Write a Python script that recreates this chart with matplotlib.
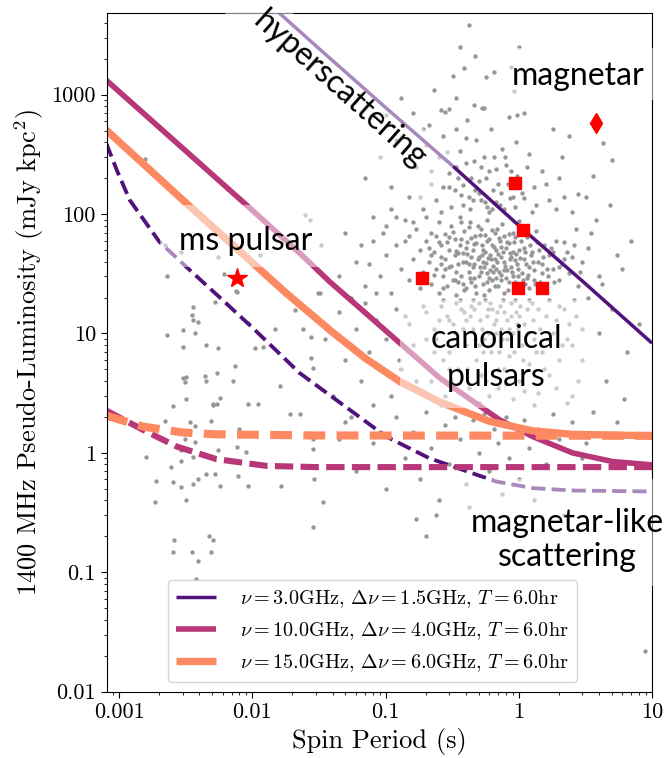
import numpy as np
import matplotlib
matplotlib.use("Agg")
import matplotlib.pyplot as plt
from matplotlib.patches import Rectangle, Polygon
from matplotlib.ticker import FixedLocator, FixedFormatter, LogLocator, NullFormatter

plt.rcParams["font.family"] = "cmr10"
plt.rcParams["mathtext.fontset"] = "cm"
plt.rcParams["axes.unicode_minus"] = False

# --- pulsar population (spin period s, pseudo-luminosity mJy kpc^2) ---
msp_points = [
    (0.00155, 287), (0.0022, 55), (0.0023, 30.4), (0.0029, 48), (0.0036, 16.7), (0.0035, 14.3),
    (0.0036, 13), (0.0039, 12.5), (0.003, 10.7), (0.0023, 9.7), (0.0037, 10.1), (0.003, 7.7),
    (0.0045, 8.0), (0.0055, 7.5), (0.0052, 18.4), (0.0055, 44), (0.0076, 22.4), (0.0093, 12.2),
    (0.012, 7.7), (0.0104, 7.5), (0.0147, 11), (0.0208, 15.7), (0.024, 11), (0.0277, 9.4),
    (0.033, 55), (0.032, 21.7), (0.0247, 98), (0.027, 89), (0.0044, 4.4), (0.0054, 4.7),
    (0.0032, 4.35), (0.0074, 5.3), (0.0277, 6.2), (0.0284, 5.1), (0.003, 4.2), (0.0031, 3.9),
    (0.0045, 4.0), (0.0072, 4.0), (0.0057, 2.9), (0.0051, 2.5), (0.0054, 2.55), (0.0115, 45),
    (0.0061, 31.5), (0.0075, 22.7), (0.031, 22),
    (0.0016, 0.93), (0.0019, 0.587), (0.00185, 0.389), (0.0022, 1.86), (0.00254, 2.49),
    (0.0027, 1.54), (0.00247, 0.76), (0.00255, 0.57), (0.0026, 0.185), (0.00255, 0.148),
    (0.0029, 1.05), (0.0029, 0.86), (0.0029, 0.516), (0.0032, 2.83), (0.0032, 0.40),
    (0.0031, 1.31), (0.0034, 1.82), (0.0037, 1.69), (0.0036, 0.92), (0.0036, 0.55),
    (0.0037, 1.23), (0.0039, 0.61), (0.0035, 0.148), (0.0039, 0.125), (0.0038, 0.088),
    (0.0047, 0.203), (0.0051, 0.185), (0.0049, 0.148), (0.0045, 0.667), (0.0052, 0.667),
    (0.0049, 1.86), (0.0051, 2.57), (0.0055, 1.05), (0.0054, 1.44), (0.0057, 0.533),
    (0.0076, 1.12), (0.0078, 0.646), (0.008, 1.59), (0.009, 1.01), (0.0093, 0.533),
    (0.0093, 2.57), (0.011, 2.57), (0.016, 3.66), (0.0165, 0.533), (0.019, 2.12),
    (0.0226, 2.12), (0.0284, 1.31), (0.0284, 1.08), (0.029, 0.61), (0.034, 0.387), (0.0284, 0.239),
]

psr_points = [
    # bright end
    (0.13, 930), (0.23, 1090), (0.26, 740), (0.28, 720), (0.30, 760), (0.335, 930), (0.32, 1420),
    (0.36, 2500), (0.39, 1660), (0.42, 3800), (0.47, 2100), (0.46, 815), (0.53, 770), (0.41, 610),
    (0.34, 520), (0.65, 1560), (1.0, 2500), (0.84, 650), (0.97, 680), (1.1, 700), (4.3, 390),
    (5.0, 285), (2.1, 300), (2.8, 148), (3.6, 210), (0.87, 1700), (0.57, 1400), (0.92, 1070),
    (0.55, 780), (0.16, 700), (0.19, 520), (0.1, 680),
    (0.09, 300), (0.12, 420), (0.17, 250), (0.2, 380), (0.22, 180), (0.25, 300), (0.27, 450),
    (0.3, 220), (0.33, 160), (0.36, 340), (0.4, 270), (0.44, 200), (0.48, 420), (0.5, 150),
    (0.55, 300), (0.6, 230), (0.62, 520), (0.7, 180), (0.75, 350), (0.8, 260), (0.9, 140),
    (0.95, 400), (1.2, 320), (1.3, 170), (1.5, 230), (1.7, 130), (2.0, 200), (2.4, 450),
    (0.21, 560), (0.38, 120), (0.58, 115), (0.68, 125), (0.15, 140), (0.11, 170), (0.07, 200),
    (1.8, 520), (0.29, 330), (0.52, 250), (0.78, 110), (0.45, 130), (1.05, 150), (2.5, 105),
    (0.4, 430), (0.65, 300),
    (0.24, 130), (0.31, 115), (0.37, 145), (0.43, 110), (0.5, 190), (0.56, 125), (0.64, 160),
    (0.72, 120), (0.83, 180), (0.93, 115), (1.1, 135), (1.25, 105), (0.27, 170), (0.47, 160),
    (0.19, 110), (0.35, 200), (0.6, 105), (0.88, 230), (1.6, 180), (2.2, 140),
    (0.18, 140), (0.22, 230), (0.26, 105), (0.3, 170), (0.34, 250), (0.38, 175), (0.42, 140),
    (0.46, 280), (0.52, 130), (0.57, 200), (0.63, 110), (0.68, 240), (0.73, 150), (0.79, 300),
    (0.86, 135), (0.97, 210), (1.15, 250), (1.35, 120), (1.9, 110), (2.7, 75), (3.2, 140),
    # dense core
    (0.06, 40), (0.07, 25), (0.08, 60), (0.09, 30), (0.1, 80), (0.1, 45), (0.11, 22), (0.12, 55),
    (0.13, 35), (0.14, 90), (0.15, 28), (0.15, 65), (0.16, 42), (0.17, 75), (0.18, 24), (0.18, 50),
    (0.19, 33), (0.2, 95), (0.2, 60), (0.21, 40), (0.22, 26), (0.22, 70), (0.23, 48), (0.24, 35),
    (0.25, 85), (0.25, 22), (0.26, 55), (0.27, 30), (0.28, 42), (0.28, 68), (0.29, 25), (0.3, 50),
    (0.3, 36), (0.31, 80), (0.32, 28), (0.33, 45), (0.33, 62), (0.34, 21), (0.35, 38), (0.36, 55),
    (0.36, 95), (0.37, 30), (0.38, 47), (0.39, 72), (0.4, 24), (0.4, 40), (0.41, 58), (0.42, 33),
    (0.43, 85), (0.44, 27), (0.45, 50), (0.46, 38), (0.47, 65), (0.48, 22), (0.5, 44), (0.5, 30),
    (0.52, 75), (0.53, 55), (0.54, 26), (0.55, 36), (0.56, 48), (0.58, 90), (0.58, 32), (0.6, 62),
    (0.6, 23), (0.62, 42), (0.63, 28), (0.65, 53), (0.66, 70), (0.68, 35), (0.7, 25), (0.7, 46),
    (0.72, 60), (0.74, 31), (0.75, 82), (0.77, 40), (0.78, 22), (0.8, 52), (0.82, 34), (0.84, 27),
    (0.85, 68), (0.88, 44), (0.9, 30), (0.92, 58), (0.95, 24), (0.97, 38), (1.0, 50), (1.0, 88),
    (1.05, 32), (1.1, 42), (1.12, 26), (1.15, 64), (1.2, 36), (1.25, 48), (1.3, 28), (1.35, 72),
    (1.4, 40), (1.5, 32), (1.55, 55), (1.6, 24), (1.7, 45), (1.8, 35), (1.9, 60), (2.0, 28),
    (2.2, 42), (2.4, 32), (2.6, 55), (2.8, 25), (3.0, 40), (3.5, 70), (4.0, 30), (5.5, 45),
    (7.0, 60), (0.12, 95), (0.26, 38), (0.44, 44), (0.64, 37), (0.86, 47), (0.34, 33), (0.54, 40),
    (0.74, 53), (0.94, 41), (1.18, 31), (0.48, 57), (0.68, 29), (0.38, 26), (0.58, 27), (0.78, 34),
    (0.21, 52), (0.23, 31), (0.24, 66), (0.26, 44), (0.27, 24), (0.29, 58), (0.31, 37), (0.32, 71),
    (0.34, 49), (0.35, 27), (0.37, 62), (0.38, 40), (0.39, 23), (0.41, 46), (0.42, 78), (0.43, 29),
    (0.45, 36), (0.46, 56), (0.47, 25), (0.49, 42), (0.51, 67), (0.52, 33), (0.54, 50), (0.55, 21),
    (0.57, 39), (0.58, 60), (0.6, 29), (0.61, 45), (0.63, 74), (0.64, 33), (0.66, 25), (0.67, 50),
    (0.69, 40), (0.71, 63), (0.73, 28), (0.76, 48), (0.79, 37), (0.81, 58), (0.83, 23), (0.86, 42),
    (0.89, 33), (0.91, 70), (0.93, 27), (0.96, 46), (0.99, 35), (1.03, 60), (1.07, 28), (1.1, 52),
    (1.14, 38), (1.2, 24), (1.24, 45), (1.3, 34), (1.36, 58), (1.45, 27), (1.52, 44), (1.62, 35),
    (1.75, 52), (1.85, 27), (2.1, 38), (2.3, 48),
    (0.22, 45), (0.25, 58), (0.28, 35), (0.3, 64), (0.33, 28), (0.35, 47), (0.37, 85), (0.4, 52),
    (0.42, 38), (0.44, 63), (0.46, 29), (0.49, 80), (0.51, 36), (0.53, 45), (0.56, 67), (0.59, 43),
    (0.61, 34), (0.63, 55), (0.66, 42), (0.69, 75), (0.71, 33), (0.74, 44), (0.77, 66), (0.8, 29),
    (0.84, 57), (0.87, 36), (0.9, 48), (0.94, 64), (0.98, 30), (1.02, 43), (1.06, 73), (1.12, 48),
    (1.16, 29), (1.22, 55), (1.28, 40), (1.33, 26), (1.42, 50), (1.5, 38), (1.65, 30), (1.8, 48),
    (2.0, 36), (2.2, 58), (2.5, 44), (2.9, 33), (3.3, 52),
    (0.14, 60), (0.16, 85), (0.11, 110), (0.08, 95), (0.05, 70), (0.045, 30), (0.055, 20),
    (0.065, 55), (0.075, 38), (0.085, 22), (0.095, 70),
    # fainter canonical pulsars
    (0.15, 12), (0.18, 6), (0.2, 15), (0.22, 4), (0.24, 9), (0.26, 17), (0.28, 3), (0.3, 7),
    (0.32, 12), (0.35, 5), (0.37, 16), (0.4, 8), (0.42, 3.5), (0.45, 11), (0.48, 6), (0.5, 18),
    (0.52, 4.5), (0.55, 9), (0.58, 14), (0.6, 3), (0.62, 7), (0.65, 12), (0.7, 5), (0.72, 17),
    (0.75, 9), (0.8, 3.8), (0.82, 13), (0.85, 6.5), (0.9, 10), (0.95, 15), (1.0, 4), (1.05, 8),
    (1.1, 12), (1.2, 5.5), (1.25, 18), (1.3, 9), (1.4, 3.2), (1.5, 7), (1.6, 14), (1.7, 4.5),
    (1.8, 10), (2.0, 6), (2.2, 16), (2.5, 8), (2.8, 4), (3.0, 11), (0.25, 13), (0.33, 10),
    (0.43, 14), (0.53, 11), (0.63, 16), (0.68, 10), (0.78, 15), (0.88, 18), (0.98, 11), (1.15, 16),
    (0.46, 16), (0.56, 19), (0.36, 19), (0.27, 19), (0.6, 10), (0.4, 13),
    (0.2, 9), (0.23, 11), (0.27, 6), (0.29, 14), (0.31, 4), (0.34, 8), (0.38, 11), (0.41, 5),
    (0.44, 17), (0.47, 9), (0.51, 13), (0.54, 7), (0.57, 4), (0.59, 16), (0.64, 9), (0.67, 13),
    (0.71, 7), (0.74, 11), (0.77, 5), (0.81, 9), (0.87, 14), (0.92, 7), (0.97, 12), (1.02, 17),
    (1.08, 6), (1.17, 10), (1.28, 13), (1.35, 7), (1.45, 11), (1.55, 5), (1.65, 9), (1.9, 13),
    (2.1, 8), (2.4, 12), (0.16, 8), (0.19, 17), (0.36, 3.2), (0.5, 2.6), (0.7, 3.5), (0.9, 2.8),
    (1.1, 3.3), (1.3, 2.5),
    (0.3, 13), (0.34, 18), (0.39, 15), (0.45, 19), (0.5, 8), (0.61, 18), (0.69, 15), (0.76, 19),
    (0.85, 11), (0.93, 19), (1.0, 14), (1.2, 19), (1.4, 16), (1.7, 19), (2.0, 17), (2.6, 19),
    (1.9, 3.5), (2.3, 2.6), (0.26, 2.5), (0.3, 5), (0.23, 7), (0.17, 4), (0.14, 14), (0.13, 5),
    (0.035, 9), (0.04, 3), (0.045, 15), (0.05, 6), (0.055, 2), (0.06, 11), (0.065, 4), (0.07, 18),
    (0.075, 7), (0.08, 2.5), (0.085, 13), (0.09, 5), (0.1, 9), (0.11, 3), (0.12, 16), (0.125, 6),
    (0.045, 1.3), (0.09, 1.5),
    (0.05, 1.8), (0.06, 0.7), (0.08, 1.2), (0.1, 0.5), (0.12, 2.0), (0.14, 0.9), (0.16, 1.5),
    (0.18, 0.6), (0.2, 2.2), (0.22, 1.1), (0.25, 0.4), (0.28, 1.7), (0.3, 0.8), (0.33, 2.0),
    (0.36, 1.3), (0.4, 0.55), (0.45, 1.9), (0.5, 1.0), (0.55, 2.1), (0.6, 0.7), (0.65, 1.6),
    (0.7, 1.2), (0.8, 2.0), (0.85, 0.9), (0.9, 1.4), (1.0, 0.6), (1.1, 1.9), (1.2, 1.1),
    (1.4, 1.6), (1.6, 0.8), (1.8, 2.1), (2.0, 1.3), (2.5, 1.8), (3.0, 0.9), (0.24, 0.3),
    (0.42, 0.35), (0.75, 0.45), (1.3, 0.4), (0.17, 0.28), (0.2, 0.2), (2.2, 0.3),
    (2.3, 9), (2.5, 3), (2.7, 14), (3.0, 6), (3.3, 20), (3.6, 2.2), (4.0, 10), (4.5, 4),
    (5.0, 16), (5.5, 1.8), (6.5, 7), (8.0, 12), (3.2, 1.2), (4.2, 26), (6.0, 35), (3.8, 90),
    (4.8, 120), (8.8, 0.022), (6.2, 2.8),
]

# --- highlighted sources ---
star_p, star_l = [0.0076], [29]
square_p = [0.94, 1.07, 0.187, 0.985, 1.49]
square_l = [183, 73.5, 29.3, 23.9, 23.9]
diamond_p, diamond_l = [3.78], [581]

# --- sensitivity curves: solid and dashed per observing setup ---
labels = [
    r"$\nu = 3.0$GHz, $\Delta\nu = 1.5$GHz, $T = 6.0$hr",
    r"$\nu = 10.0$GHz, $\Delta\nu = 4.0$GHz, $T = 6.0$hr",
    r"$\nu = 15.0$GHz, $\Delta\nu = 6.0$GHz, $T = 6.0$hr",
]
solid_p = [
    [0.01, 0.016, 0.03, 0.1, 0.32, 1.09, 3, 10],
    [0.0008, 0.00903, 0.0227, 0.0381, 0.1277, 0.2548, 0.718, 1.27, 2.53, 5.06, 10],
    [0.0008, 0.0032, 0.018, 0.0401, 0.0718, 0.1277, 0.2548, 0.604, 1.27, 2.53, 10],
]
solid_l = [
    [7700, 4800, 2560, 780, 252, 73.5, 27.5, 8.3],
    [1322, 119, 47, 27.1, 8.33, 4.24, 1.89, 1.37, 1.0, 0.846, 0.794],
    [505, 122.9, 21.7, 10.2, 6.1, 3.96, 2.67, 1.835, 1.53, 1.43, 1.39],
]
dashed_p = [
    [0.0008, 0.00096, 0.0012, 0.002, 0.0032, 0.0057, 0.01, 0.0227, 0.048, 0.101, 0.214, 0.678,
     1.27, 2.53, 10],
    [0.0008, 0.00151, 0.0027, 0.00538, 0.01277, 0.0303, 10],
    [0.0008, 0.00151, 0.00302, 0.00538, 0.0284, 10],
]
dashed_l = [
    [391, 233, 131, 58.7, 36, 20, 11.2, 4.65, 2.52, 1.37, 0.90, 0.575, 0.507, 0.484, 0.475],
    [2.26, 1.56, 1.13, 0.886, 0.778, 0.76, 0.76],
    [2.05, 1.66, 1.48, 1.43, 1.40, 1.39],
]
line_widths = [2.5, 4.0, 5.3]
dash_styles = [(3.7, 1.6), (3.0, 1.2), (2.7, 1.4)]

xtick_vals = [0.001, 0.01, 0.1, 1, 10]
xtick_labels = ["0.001", "0.01", "0.1", "1", "10"]
ytick_vals = [0.01, 0.1, 1, 10, 100, 1000]
ytick_labels = ["0.01", "0.1", "1", "10", "100", "1000"]

# axes placement in pixels of the 668x758 canvas
AX_L, AX_R, AX_T, AX_B = 107, 652, 13.3, 691.7


def ax_x(px):
    return (px - AX_L) / (AX_R - AX_L)


def ax_y(py):
    return (AX_B - py) / (AX_B - AX_T)


fig = plt.figure(figsize=(6.68, 7.58), dpi=100)
ax = fig.add_axes([AX_L / 668, 1 - AX_B / 758, (AX_R - AX_L) / 668, (AX_B - AX_T) / 758])

pts = np.array(msp_points + psr_points)
ax.scatter(pts[:, 0], pts[:, 1], s=10, color="#979797", linewidths=0, zorder=1)

colors = plt.cm.magma([0.25, 0.5, 0.75])
for i in range(3):
    ax.plot(solid_p[i], solid_l[i], color=colors[i], lw=line_widths[i],
            label=labels[i], zorder=2, solid_capstyle="butt")
    ax.plot(dashed_p[i], dashed_l[i], color=colors[i], lw=line_widths[i] * 1.1,
            dashes=dash_styles[i], zorder=2)

ax.plot(star_p, star_l, ls="none", marker="*", ms=15, color="red", mec="red", zorder=4)
ax.plot(square_p, square_l, ls="none", marker="s", ms=8.5, color="red", zorder=4)
ax.plot(diamond_p, diamond_l, ls="none", marker="d", ms=10, color="red", zorder=4)

ax.set_xscale("log")
ax.set_yscale("log")
ax.set_xlim(0.00081, 10)
ax.set_ylim(0.01, 4800)

ax.xaxis.set_major_locator(FixedLocator(xtick_vals))
ax.xaxis.set_major_formatter(FixedFormatter(xtick_labels))
ax.yaxis.set_major_locator(FixedLocator(ytick_vals))
ax.yaxis.set_major_formatter(FixedFormatter(ytick_labels))
for axis in (ax.xaxis, ax.yaxis):
    axis.set_minor_locator(LogLocator(base=10, subs=np.arange(2, 10), numticks=50))
    axis.set_minor_formatter(NullFormatter())
ax.tick_params(which="major", length=4.5, labelsize=16)
ax.tick_params(which="minor", length=2.5)

ax.set_xlabel("Spin Period (s)", fontsize=19)
ax.set_ylabel(r"1400 MHz Pseudo-Luminosity (mJy kpc$^2$)", fontsize=19)

# semi-transparent white label backgrounds (pixel boxes)
boxes = [(160, 205, 335, 267), (400, 300, 590, 408), (462, 479, 668, 586), (500, 48, 668, 100)]
for x0, y0, x1, y1 in boxes:
    ax.add_patch(Rectangle((ax_x(x0), ax_y(y1)), ax_x(x1) - ax_x(x0), ax_y(y0) - ax_y(y1),
                           transform=ax.transAxes, facecolor="white", edgecolor="none",
                           alpha=0.5, zorder=2.6, clip_on=False))
hyper = [(255, -20), (459, 160), (422, 202), (218, 22)]
ax.add_patch(Polygon([(ax_x(a), ax_y(b)) for a, b in hyper], closed=True, transform=ax.transAxes,
                     facecolor="white", edgecolor="none", alpha=0.5, zorder=2.6))

lab = dict(family="Lato", fontsize=23, color="black", zorder=3, transform=ax.transAxes)
ax.text(ax_x(578), ax_y(85), "magnetar", ha="center", va="baseline", **lab)
ax.text(ax_x(246), ax_y(250), "ms pulsar", ha="center", va="baseline", **lab)
ax.text(ax_x(496), ax_y(358), "canonical\npulsars", ha="center", va="center",
        linespacing=1.3, **lab)
ax.text(ax_x(567), ax_y(540), "magnetar-like\nscattering", ha="center", va="center",
        linespacing=1.15, **lab)
ax.text(ax_x(340), ax_y(90), "hyperscattering", ha="center", va="center", rotation=-41.6, **lab)

ax.legend(loc="lower left", bbox_to_anchor=(0.093, 0.0), fontsize=14.5,
          handlelength=2.0, handletextpad=1.2)

fig.savefig("out.png", dpi=100)
